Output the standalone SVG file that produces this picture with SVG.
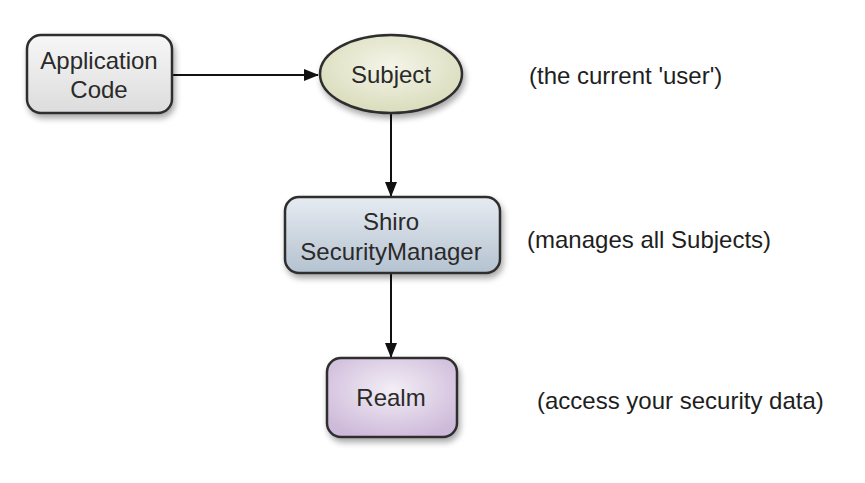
<svg xmlns="http://www.w3.org/2000/svg" width="865" height="483" viewBox="0 0 865 483">
<style>
.t{font-family:"Liberation Sans",Arial,sans-serif;font-size:24px;fill:#2a2a2a;text-anchor:middle}
.l{font-family:"Liberation Sans",Arial,sans-serif;font-size:24px;fill:#1e1e1e}
.n{stroke:#2e2e2e;stroke-width:2.5}
.c{stroke:#111;stroke-width:2;fill:none;marker-end:url(#ah)}
</style>
<defs>
<marker id="ah" markerWidth="15" markerHeight="12" refX="14" refY="6" orient="auto" markerUnits="userSpaceOnUse"><path d="M0,0 L15,6 L0,12 Z" fill="#111"/></marker>
<filter id="sh" x="-20%" y="-20%" width="140%" height="150%"><feGaussianBlur in="SourceAlpha" stdDeviation="3"/><feOffset dx="2" dy="4"/><feComponentTransfer><feFuncA type="linear" slope="0.35"/></feComponentTransfer><feMerge><feMergeNode/><feMergeNode in="SourceGraphic"/></feMerge></filter>
<linearGradient id="g1" x1="0" y1="0" x2="0" y2="1"><stop offset="0" stop-color="#f7f7f7"/><stop offset="1" stop-color="#dcdcdc"/></linearGradient>
<radialGradient id="g2" cx="0.5" cy="0.4" r="0.6"><stop offset="0" stop-color="#f4f5e8"/><stop offset="1" stop-color="#dadcbc"/></radialGradient>
<linearGradient id="g3" x1="0" y1="0" x2="0" y2="1"><stop offset="0" stop-color="#e6ebf1"/><stop offset="1" stop-color="#b4c2d0"/></linearGradient>
<radialGradient id="g4" cx="0.5" cy="0.4" r="0.65"><stop offset="0" stop-color="#f3eef6"/><stop offset="1" stop-color="#cdb9d9"/></radialGradient>
</defs>
<rect width="865" height="483" fill="#fff"/>
<g id="connectors">
<line class="c" x1="172" y1="75" x2="318" y2="75"/>
<line class="c" x1="391" y1="113" x2="391" y2="196"/>
<line class="c" x1="391" y1="274" x2="391" y2="357"/>
</g>
<g id="appcode">
<rect class="n" x="27" y="35" width="145" height="78" rx="14" fill="url(#g1)" filter="url(#sh)"/>
<text class="t" x="99" y="69">Application</text>
<text class="t" x="99" y="98">Code</text>
</g>
<g id="subject">
<ellipse class="n" cx="391" cy="74" rx="71" ry="39" fill="url(#g2)" filter="url(#sh)"/>
<text class="t" x="391" y="83">Subject</text>
</g>
<g id="securitymanager">
<rect class="n" x="285" y="197" width="215" height="76" rx="14" fill="url(#g3)" filter="url(#sh)"/>
<text class="t" x="391" y="230">Shiro</text>
<text class="t" x="391" y="260">SecurityManager</text>
</g>
<g id="realm">
<rect class="n" x="327" y="358" width="130" height="79" rx="14" fill="url(#g4)" filter="url(#sh)"/>
<text class="t" x="391" y="406">Realm</text>
</g>
<g id="labels">
<text class="l" x="529" y="84">(the current 'user')</text>
<text class="l" x="527" y="248">(manages all Subjects)</text>
<text class="l" x="537" y="409">(access your security data)</text>
</g>
</svg>
